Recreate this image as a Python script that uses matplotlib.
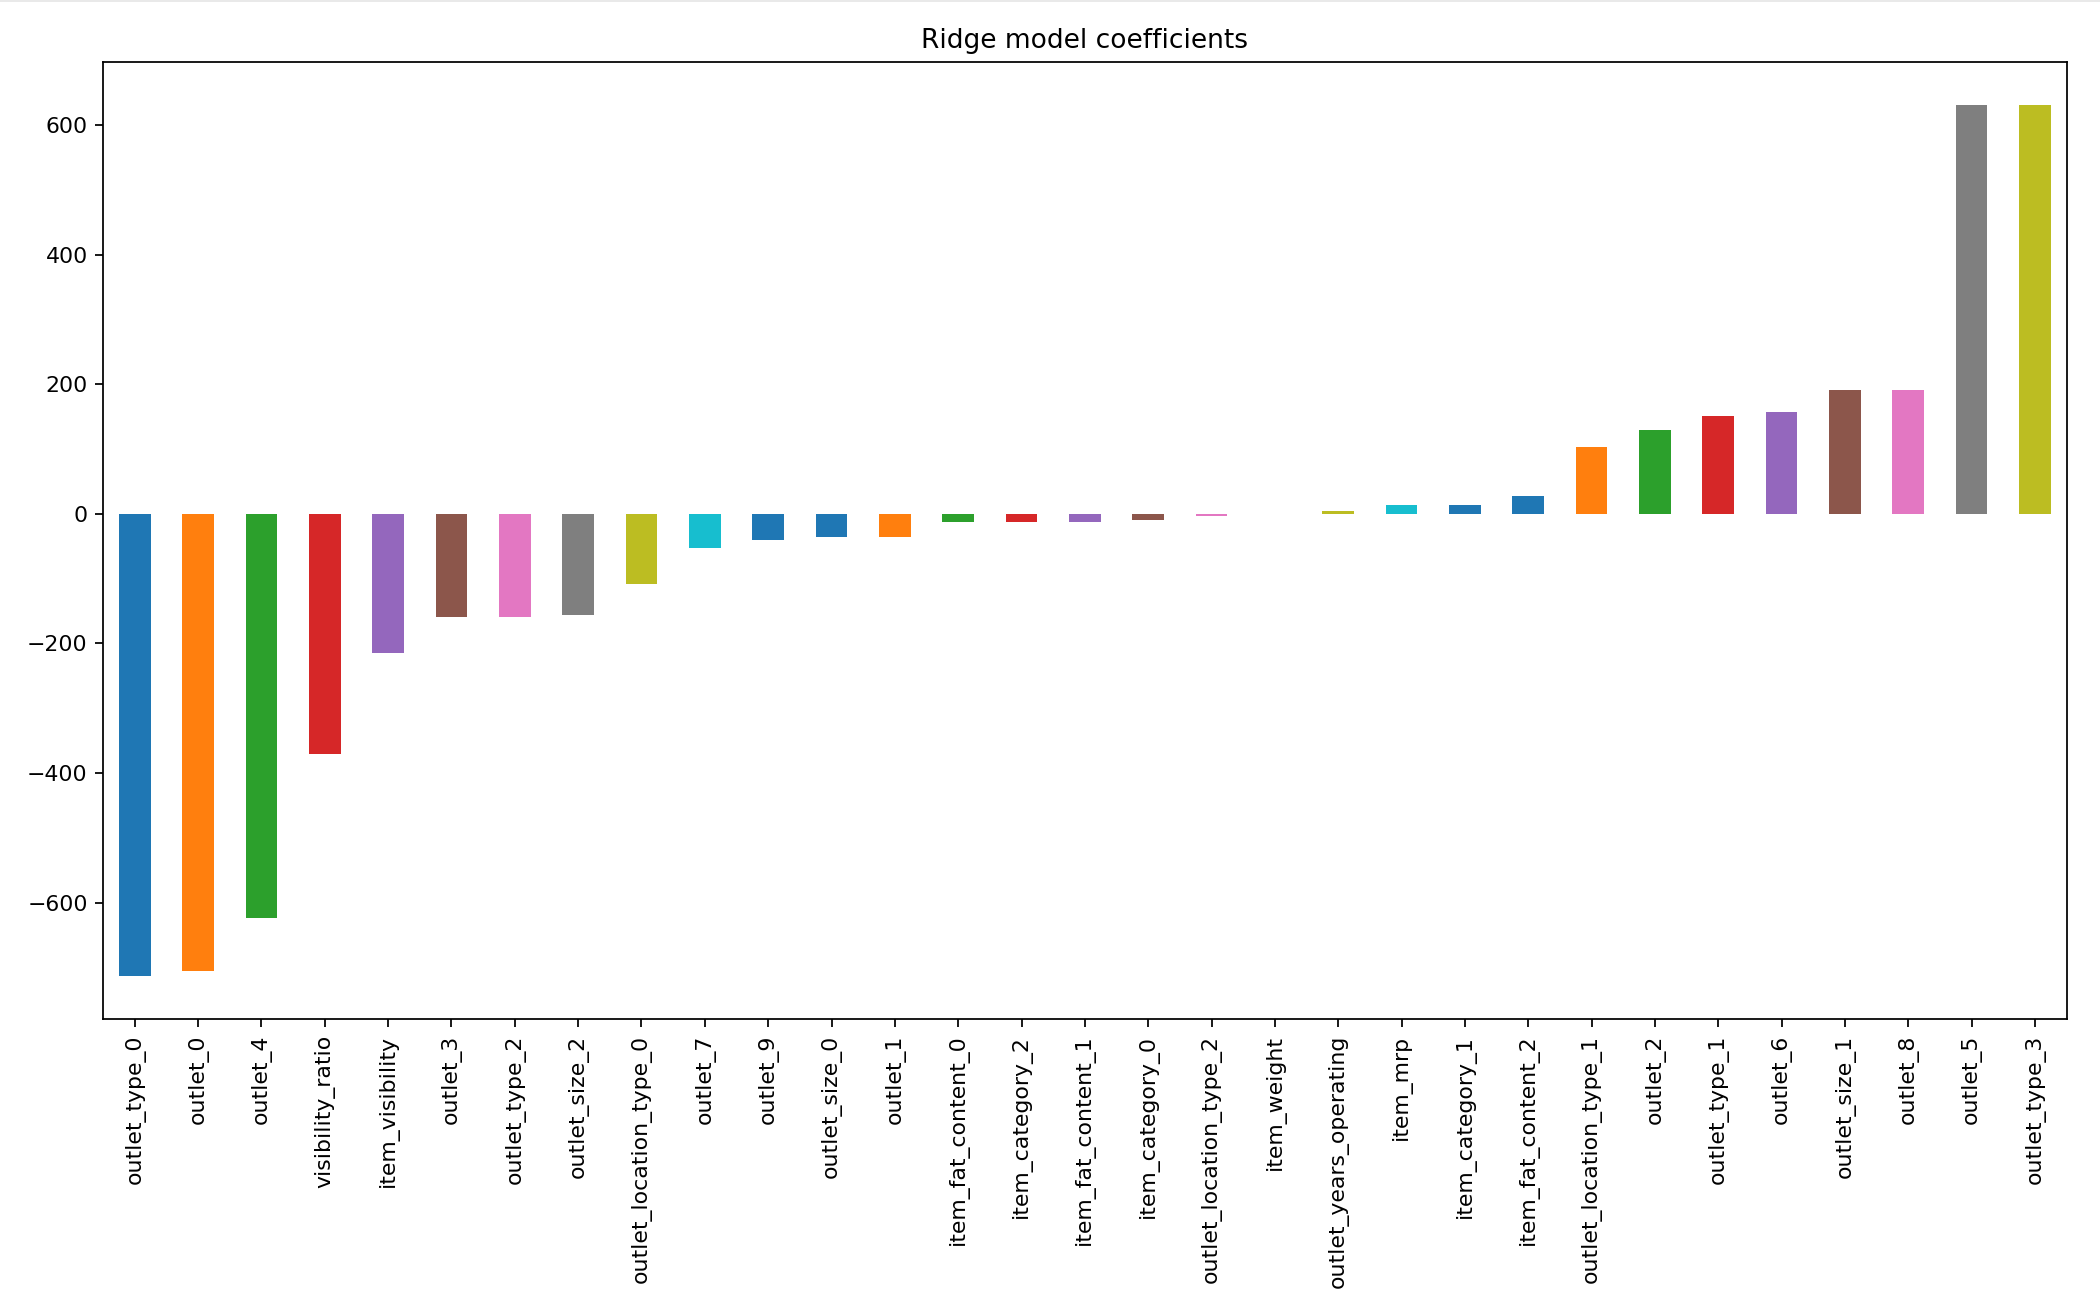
import numpy as np
import matplotlib.pyplot as plt

features = ['outlet_type_0', 'outlet_0', 'outlet_4', 'visibility_ratio',
            'item_visibility', 'outlet_3', 'outlet_type_2', 'outlet_size_2',
            'outlet_location_type_0', 'outlet_7', 'outlet_9', 'outlet_size_0',
            'outlet_1', 'item_fat_content_0', 'item_category_2',
            'item_fat_content_1', 'item_category_0', 'outlet_location_type_2',
            'item_weight', 'outlet_years_operating', 'item_mrp',
            'item_category_1', 'item_fat_content_2', 'outlet_location_type_1',
            'outlet_2', 'outlet_type_1', 'outlet_6', 'outlet_size_1',
            'outlet_8', 'outlet_5', 'outlet_type_3']

coefs = [-713, -706, -624, -370, -214, -159, -159, -156, -108, -53, -40,
         -36, -36, -12, -12, -13, -9, -3, 0.5, 4, 14, 14, 28, 103, 130,
         151, 158, 191, 191, 631, 631]

# colour cycle as it came out of the old pandas bar plot (11 entries)
palette = ['#1f77b4', '#ff7f0e', '#2ca02c', '#d62728', '#9467bd', '#8c564b',
           '#e377c2', '#7f7f7f', '#bcbd22', '#17becf', '#1f77b4']

DPI = 158
fig = plt.figure(figsize=(2100 / DPI, 1314 / DPI), dpi=DPI)
ax = fig.add_axes([0.0491, 0.2243, 0.9350, 0.7288])

ind = np.arange(len(coefs))
colors = [palette[i % len(palette)] for i in ind]
ax.bar(ind, coefs, 0.5, color=colors)
ax.set_xlim(-0.5, len(coefs) - 0.5)
ax.set_xticks(ind)
ax.set_xticklabels(features, rotation=90)
ax.set_title('Ridge model coefficients')

# faint border line along the top edge of the screenshot
fig.add_artist(plt.Line2D([0, 1], [0.9995, 0.9995], color='#e6e6e6',
                          lw=0.8, transform=fig.transFigure))

fig.savefig('out.png', dpi=DPI)
